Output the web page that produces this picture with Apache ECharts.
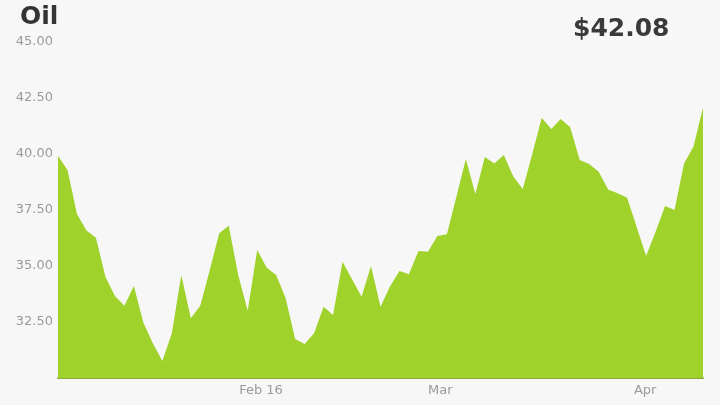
<!DOCTYPE html>
<html>
<head>
<meta charset="utf-8">
<script src="https://cdn.jsdelivr.net/npm/echarts@6/dist/echarts.min.js"></script>
<style>
  html, body { margin: 0; padding: 0; background: #f7f7f7; }
  #chart { width: 720px; height: 405px; }
</style>
</head>
<body>
<div id="chart"></div>
<script>
// Daily oil price (trading days, in order)
const prices = [
  39.91, 39.29, 37.32, 36.58, 36.26, 34.52, 33.66, 33.23, 34.11, 32.47,
  31.55, 30.76, 32.00, 34.60, 32.67, 33.23, 34.82, 36.46, 36.80, 34.60,
  33.00, 35.71, 34.92, 34.60, 33.56, 31.74, 31.52, 32.00, 33.18, 32.81,
  35.19, 34.41, 33.63, 35.00, 33.18, 34.08, 34.78, 34.63, 35.67, 35.64,
  36.34, 36.42, 38.09, 39.78, 38.21, 39.87, 39.58, 39.96, 38.99, 38.44,
  40.00, 41.62, 41.12, 41.56, 41.19, 39.73, 39.55, 39.21, 38.42, 38.25,
  38.05, 36.75, 35.45, 36.53, 37.68, 37.50, 39.58, 40.33, 42.08
];
// Month-start positions on the trading-day scale and their labels
const xTickPos = [21.4, 40.3, 61.9];
const xTickLabels = ['Feb 16', 'Mar', 'Apr'];
const titleText = 'Oil';
const priceText = '$42.08';

const chart = echarts.init(document.getElementById('chart'));
chart.setOption({
  backgroundColor: '#f7f7f7',
  animation: false,
  title: [
    { text: titleText, left: 15, top: 0,
      textStyle: { fontFamily: 'DejaVu Sans', fontWeight: 'bold', fontSize: 25, color: '#333333' } },
    { text: priceText, left: 568, top: 12,
      textStyle: { fontFamily: 'DejaVu Sans', fontWeight: 'bold', fontSize: 25, color: '#3a3a3a' } }
  ],
  grid: { left: 58, right: 17, top: 42, bottom: 27 },
  xAxis: {
    type: 'value',
    min: 0,
    max: prices.length - 1,
    axisLine: { show: true, lineStyle: { color: '#8aa83c', width: 2 } },
    axisTick: { show: false },
    splitLine: { show: false },
    axisLabel: {
      customValues: xTickPos,
      margin: 6,
      color: '#9a9a9a',
      fontFamily: 'DejaVu Sans',
      fontSize: 13,
      formatter: function (v) {
        for (let i = 0; i < xTickPos.length; i++) {
          if (Math.abs(xTickPos[i] - v) < 1e-6) return xTickLabels[i];
        }
        return '';
      }
    }
  },
  yAxis: {
    type: 'value',
    min: 30,
    max: 45,
    interval: 2.5,
    axisLine: { show: false },
    axisTick: { show: false },
    splitLine: { show: false },
    axisLabel: {
      showMinLabel: false,
      margin: 5,
      color: '#9a9a9a',
      fontFamily: 'DejaVu Sans',
      fontSize: 13,
      formatter: function (v) { return v.toFixed(2); }
    }
  },
  series: [{
    type: 'line',
    data: prices.map(function (v, i) { return [i, v]; }),
    symbol: 'none',
    lineStyle: { width: 0 },
    areaStyle: { color: '#9fd22a', opacity: 1 },
    silent: true
  }]
});
</script>
</body>
</html>
